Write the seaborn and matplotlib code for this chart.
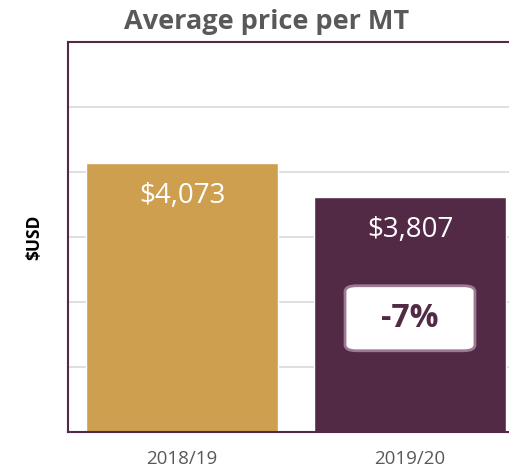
import pandas as pd
import numpy as np

import matplotlib.pyplot as plt
import seaborn as sns
from matplotlib.patches import FancyBboxPatch

# data
seasons = ["2018/19", "2019/20"]
avg_price = [4073, 3807]
bar_colors = ["#CF9F50", "#532A45"]
y_ticks = [2000, 2500, 3000, 3500, 4000, 4500, 5000]

df = pd.DataFrame({"season": seasons, "price": avg_price})

sns.set_theme(style="white")
plt.rcParams["font.family"] = ["Open Sans", "DejaVu Sans"]

fig = plt.figure(figsize=(5.1, 4.68), dpi=100)
ax = fig.add_axes([68 / 510, 36 / 468, 456 / 510, 390 / 468])

sns.barplot(
    data=df,
    x="season",
    y="price",
    hue="season",
    palette=bar_colors,
    width=0.84,
    legend=False,
    saturation=1,
    ax=ax
)

ax.set_ylim(y_ticks[0], y_ticks[-1])
ax.set_xlim(-0.5, 1.5)
ax.set_yticks(y_ticks)
ax.yaxis.grid(True, color="#D9D9D9", linewidth=1.2)
ax.set_axisbelow(True)
ax.tick_params(axis="y", left=False, labelleft=False)
ax.tick_params(axis="x", bottom=False, labelsize=13.5, colors="#595959", pad=7)

for side in ["left", "top", "bottom", "right"]:
    ax.spines[side].set_color("#532A45")
    ax.spines[side].set_linewidth(1.5)

ax.set_xlabel("")
ax.set_ylabel("$USD", fontsize=12.5, fontweight="bold", color="black", labelpad=18)

# value labels inside the bars
for i, v in enumerate(avg_price):
    ax.text(i, v - 255, "${:,}".format(v), ha="center", va="center",
            color="white", fontsize=20)

# change badge on the second bar
change = (avg_price[1] - avg_price[0]) / avg_price[0] * 100
box_w = 0.57
box_lo, box_hi = 2625, 3125
badge = FancyBboxPatch(
    (1 - box_w / 2, box_lo), box_w, box_hi - box_lo,
    boxstyle="round,pad=0,rounding_size=0.05",
    mutation_aspect=900,
    facecolor="white",
    edgecolor="#9C7A93",
    linewidth=2,
    zorder=5
)
ax.add_patch(badge)
ax.text(1, (box_lo + box_hi) / 2, "{:.0f}%".format(change), ha="center", va="center",
        color="#532A45", fontsize=23, fontweight="bold", zorder=6)

fig.text(267 / 510, 1 - 22 / 468, "Average price per MT", ha="center", va="center",
         fontsize=19.5, fontweight="bold", color="#595959")

plt.savefig("out.png", dpi=100)
